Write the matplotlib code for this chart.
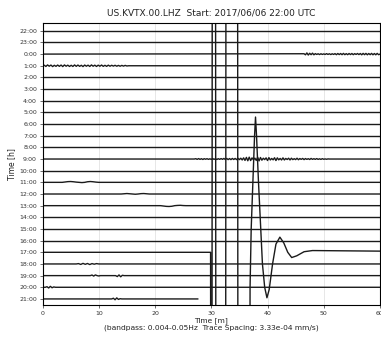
import matplotlib.pyplot as plt
import numpy as np

hours = ['22:00', '23:00', '0:00', '1:00', '2:00', '3:00', '4:00', '5:00',
         '6:00', '7:00', '8:00', '9:00', '10:00', '11:00', '12:00', '13:00',
         '14:00', '15:00', '16:00', '17:00', '18:00', '19:00', '20:00', '21:00']
# minute where each line's data stops
line_end = [60] * 23 + [27.6]

# earthquake on the 17:00 line (minutes, amplitude in trace spacings, + = up)
ev_t = [0, 29.88, 29.95, 30.1, 30.2, 30.3, 30.75, 30.85, 32.53, 32.63,
        34.67, 34.77, 36.75, 36.9, 37.1, 37.4, 37.7, 37.87, 38.05, 38.4,
        38.8, 39.1, 39.5, 39.9, 40.3, 40.9, 41.5, 42.2, 42.9, 43.6, 44.3,
        45.2, 46.5, 48, 60]
ev_a = [0, 0, -40, -40, 40, 40, 40, -40, -40, 40,
        40, -40, -40, -3, 2, 6, 10, 11.6, 10, 6,
        2, -1, -3, -3.9, -3.2, -1, 0.7, 1.3, 0.8, 0, -0.45,
        -0.3, 0.05, 0.15, 0.1]

# noisy stretches: (row label, start minute, step, amplitudes)
bursts = [
    ('0:00', 46.5, 0.25,
     [0.03, -0.06, 0.1, -0.08, 0.07, -0.05, 0.08, -0.06, 0.04, -0.03, 0.03,
      -0.04, 0.03, -0.03, 0.02, -0.03, 0.04, -0.03, 0.03, -0.04, 0.03, -0.03,
      0.04, -0.05, 0.05, -0.04, 0.05, -0.05, 0.06, -0.05, 0.04, -0.05, 0.05,
      -0.04, 0.05, -0.05, 0.04, -0.03, 0.05, -0.04, 0.05, -0.06, 0.06, -0.05,
      0.06, -0.06, 0.05, -0.05, 0.06, -0.06, 0.05, -0.06, 0.06, -0.05]),
    ('1:00', 0.0, 0.3,
     [0.0, 0.05, -0.06, 0.07, -0.04, 0.06, -0.07, 0.04, -0.05, 0.06, -0.05,
      0.06, -0.07, 0.07, -0.04, 0.05, -0.06, 0.04, -0.06, 0.07, -0.05, 0.06,
      -0.05, 0.04, -0.07, 0.06, -0.04, 0.05, -0.06, 0.07, -0.04, 0.05, -0.06,
      0.05, -0.04, 0.06, -0.05, 0.04, -0.05, 0.05, -0.04, 0.04, -0.03, 0.04,
      -0.04, 0.03, -0.04, 0.03, -0.03, 0.03, -0.02, 0.0]),
    ('9:00', 27.0, 0.25,
     [0.0, 0.03, -0.03, 0.04, -0.03, 0.03, -0.04, 0.03, -0.02, 0.03, -0.03,
      0.02, -0.03, 0.04, -0.03, 0.03, -0.04, 0.03, -0.03, 0.04, -0.03, 0.05,
      -0.04, 0.05, -0.05, 0.04, -0.05, 0.05, -0.04, 0.05, -0.05, 0.06, -0.05,
      0.07, -0.08, 0.1, -0.12, 0.14, -0.15, 0.16, -0.13, 0.1, -0.07, 0.08,
      -0.12, 0.15, -0.16, 0.13, -0.1, 0.07, -0.05, 0.1, -0.13, 0.12, -0.08,
      0.05, -0.07, 0.11, -0.13, 0.1, -0.07, 0.05, -0.08, 0.1, -0.08, 0.05,
      -0.04, 0.07, -0.08, 0.07, -0.05, 0.03, -0.05, 0.07, -0.06, 0.04, -0.03,
      0.05, -0.05, 0.04, -0.03, 0.03, -0.04, 0.05, -0.03, 0.03, -0.03, 0.04,
      -0.03, 0.02, -0.03, 0.03, -0.02, 0.01, -0.02, 0.01, 0.0]),
    ('11:00', 3.5, 0.5,
     [0.0, 0.03, 0.06, 0.07, 0.05, 0.02, 0.0, -0.02, 0.0, 0.05, 0.07, 0.05,
      0.02, 0.0]),
    ('12:00', 14.0, 0.5,
     [0.0, 0.02, 0.04, 0.02, 0.0, -0.02, 0.0, 0.03, 0.04, 0.02, 0.0]),
    ('13:00', 21.0, 0.5,
     [0.0, -0.03, -0.06, -0.07, -0.05, 0.0, 0.02, 0.03, 0.01, 0.0]),
    ('18:00', 6.0, 0.4,
     [0.0, 0.03, -0.04, 0.05, -0.03, 0.04, -0.05, 0.03, -0.02, 0.03, 0.0]),
    ('19:00', 8.5, 0.3,
     [0.0, 0.05, -0.04, 0.06, 0.0, -0.03, 0.0]),
    ('19:00', 13.0, 0.3,
     [0.0, -0.08, 0.06, -0.1, 0.03, 0.0]),
    ('20:00', 0.5, 0.3,
     [0.0, 0.05, -0.06, 0.08, -0.04, 0.03, 0.0]),
    ('21:00', 12.3, 0.3,
     [0.0, 0.06, -0.07, 0.09, -0.04, 0.02, 0.0]),
]

fig = plt.figure(figsize=(3.81, 3.37), dpi=100)
ax = fig.add_axes([42.5 / 381, 1 - 305 / 337, 337.5 / 381, 282.5 / 337])

rows = np.arange(len(hours))
for i, h in enumerate(hours):
    if h == '17:00':
        t, a = ev_t, ev_a
    else:
        end = line_end[i]
        t = [0]
        a = [0]
        for name, t0, dt, amp in bursts:
            if name == h:
                tt = t0 + dt * np.arange(len(amp))
                t += list(tt)
                a += list(amp)
        t.append(end)
        a.append(0)
        order = np.argsort(t, kind='stable')
        t = np.array(t)[order]
        a = np.array(a)[order]
    ax.plot(t, i - np.array(a), color='#1a1a1a', lw=1.0)

ax.set_xlim(0, 60)
ax.set_ylim(23.52, -0.71)
ax.set_yticks(rows)
ax.set_yticklabels(hours)
ax.set_xticks(np.arange(0, 61, 10))
ax.tick_params(labelsize=4.5, length=2, width=0.5, pad=2, colors='#333')
ax.xaxis.grid(True, color='#ddd', lw=0.5)
for s in ax.spines.values():
    s.set_linewidth(0.8)

ax.set_title('US.KVTX.00.LHZ  Start: 2017/06/06 22:00 UTC', fontsize=6.5,
             color='#222', pad=5)
ax.set_xlabel('Time [m]\n(bandpass: 0.004-0.05Hz  Trace Spacing: 3.33e-04 mm/s)',
              fontsize=5.4, color='#222', labelpad=1, linespacing=1.15)
ax.set_ylabel('Time [h]', fontsize=5.5, color='#222', labelpad=2)

fig.savefig('out.png', dpi=100)
